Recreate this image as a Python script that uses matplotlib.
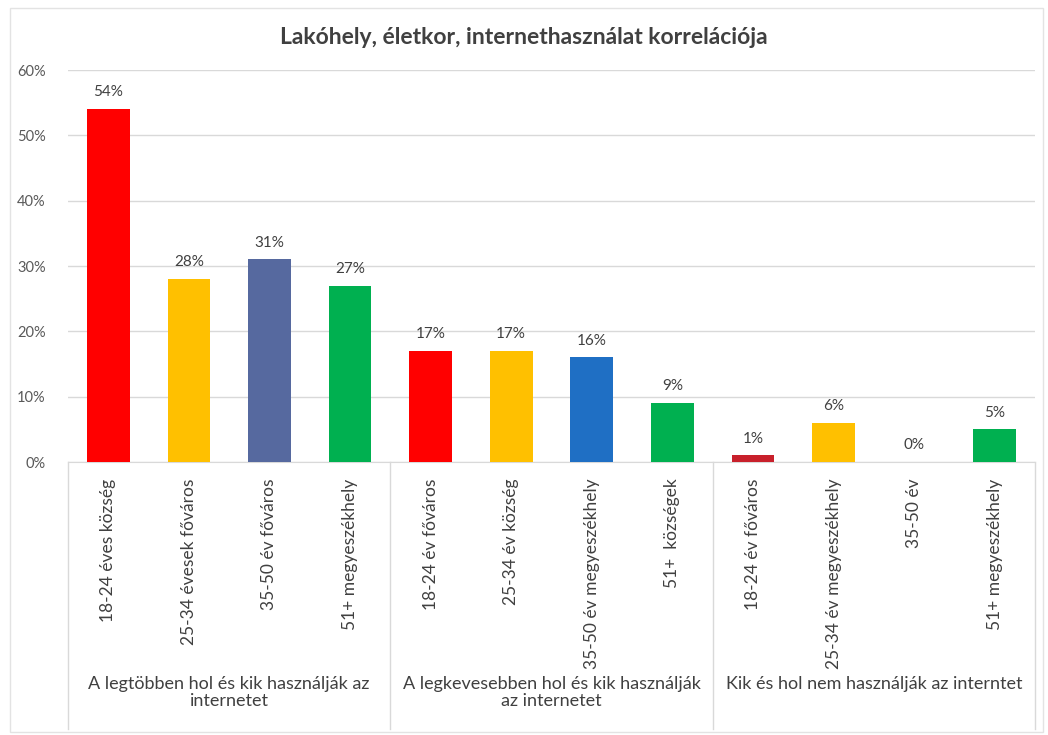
import numpy as np
import matplotlib.pyplot as plt
from matplotlib.transforms import blended_transform_factory
from matplotlib.patches import Rectangle

plt.rcParams['font.family'] = ['Lato', 'DejaVu Sans']

# bar data, left to right
categories = ['18-24 éves község', '25-34 évesek főváros', '35-50 év főváros',
              '51+ megyeszékhely',
              '18-24 év főváros', '25-34 év község', '35-50 év megyeszékhely',
              '51+  községek',
              '18-24 év főváros', '25-34 év megyeszékhely', '35-50 év',
              '51+ megyeszékhely']
values = [54, 28, 31, 27, 17, 17, 16, 9, 1, 6, 0, 5]
colors = ['#FF0000', '#FFC000', '#56699F', '#00B050',
          '#FF0000', '#FFC000', '#1F6FC4', '#00B050',
          '#C8202B', '#FFC000', '#FFC000', '#00B050']
groups = ['A legtöbben hol és kik használják az\ninternetet',
          'A legkevesebben hol és kik használják\naz internetet',
          'Kik és hol nem használják az interntet']
group_size = 4

TEXT = '#404040'
GRID = '#D9D9D9'

fig = plt.figure(figsize=(10.48, 7.35), dpi=100)
fig.patches.append(Rectangle((10/1048, 3/735), 1033/1048, 724/735,
                             transform=fig.transFigure, fill=False,
                             edgecolor='#E3E3E3', linewidth=1.0))
ax = fig.add_axes([68/1048, 1-462/735, 967/1048, 392/735])

x = np.arange(len(values))
ax.bar(x, values, width=0.53, color=colors, zorder=3)
for xi, v in zip(x, values):
    ax.text(xi, v + 1.5, '%d%%' % v, ha='center', va='bottom',
            fontsize=11, color=TEXT)

ax.set_xlim(-0.5, len(values) - 0.5)
ax.set_ylim(0, 60)
ax.set_yticks(range(0, 61, 10))
ax.set_yticklabels(['%d%%' % t for t in range(0, 61, 10)])
ax.yaxis.grid(True, color=GRID, linewidth=1.0, zorder=0)
ax.set_axisbelow(True)
for s in ['top', 'right', 'left']:
    ax.spines[s].set_visible(False)
ax.spines['bottom'].set_color(GRID)
ax.tick_params(axis='y', length=0, pad=16, labelsize=10.5, labelcolor='#595959')

ax.set_xticks(x)
ax.set_xticklabels(categories, rotation=90, va='top', ha='center')
ax.tick_params(axis='x', length=0, pad=12, labelsize=12.5, labelcolor=TEXT)

# group separators and group names under the category labels
trans = blended_transform_factory(ax.transData, ax.transAxes)
for k in range(len(groups) + 1):
    xs = k * group_size - 0.5
    ax.plot([xs, xs], [0, -0.68], transform=trans, color=GRID,
            linewidth=1.0, clip_on=False)
for k, g in enumerate(groups):
    xc = k * group_size + (group_size - 1) / 2
    ax.text(xc, -0.545, g, transform=trans, ha='center', va='top',
            fontsize=13, color=TEXT, linespacing=1.12)

fig.text(0.5, 1 - 37/735, 'Lakóhely, életkor, internethasználat korrelációja',
         ha='center', va='center', fontsize=16.5, fontweight='bold', color=TEXT)

fig.savefig('out.png', dpi=100)
